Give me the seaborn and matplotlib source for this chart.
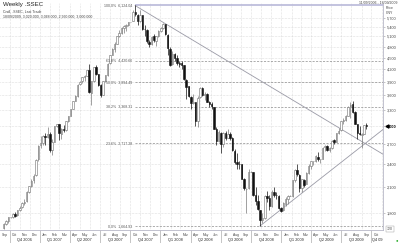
import matplotlib
matplotlib.use("Agg")
import matplotlib.pyplot as plt
import matplotlib.transforms as mtransforms
import matplotlib.dates as mdates
from matplotlib.ticker import NullLocator
import numpy as np
import pandas as pd
import seaborn as sns

# ---------------- data ----------------
first_week = "2006-09-11"
opens = [1650, 1684, 1716, 1752, 1755, 1785, 1775, 1830, 1860, 1910, 1930, 2040, 2110, 2180, 2250, 2470,
         2690, 2720, 2830, 2820, 2870, 2610, 2740, 2998, 3040, 2870, 2960, 2930, 3095, 3190, 3330, 3480,
         3580, 3850, 3910, 4020, 4040, 4180, 3660, 3930, 4260, 4080, 3820, 3620, 3920, 4060, 4350, 4570,
         4750, 4880, 5110, 5220, 5360, 5430, 5460, 5552, 5600, 5910, 5800, 5590, 5780, 5330, 5300, 4950,
         4880, 5100, 4980, 5110, 5270,
         5370, 5480, 5150, 4750, 4330, 4600, 4500, 4360, 4350, 4300, 3950, 3800, 3570, 3450, 3460, 3090,
         3560, 3760, 3610, 3630, 3470, 3430, 3370, 2950, 2750, 2890, 2710, 2880, 2800, 2870, 2800, 2600,
         2430, 2400, 2400, 2200, 2070, 2080, 2293, 2290, 2000, 1930, 1830, 1730, 1750, 1990, 1970, 1870,
         2040, 2000, 1990, 1850,
         1830, 1900, 1950, 1991, 1990, 2180, 2320, 2250, 2080, 2190, 2130, 2280, 2370, 2440, 2440, 2510,
         2470, 2480, 2650, 2670, 2610, 2640, 2760, 2740, 2880, 2930, 3090, 3110, 3190, 3380, 3420, 3260,
         3040, 2890, 2850, 2870, 3020]
highs = [1700, 1730, 1760, 1760, 1800, 1810, 1835, 1870, 1920, 1950, 2050, 2110, 2200, 2260, 2470, 2690,
         2840, 2850, 2890, 2990, 2900, 2780, 3000, 3050, 3049, 2970, 3030, 3100, 3190, 3330, 3490, 3600,
         3850, 3920, 4020, 4070, 4190, 4335, 3920, 4270, 4312, 4090, 3850, 3920, 4070, 4350, 4570, 4760,
         4940, 5110, 5290, 5400, 5470, 5490, 5560, 5560, 5950, 6124, 5830, 5954, 5800, 5450, 5330, 5010,
         5100, 5180, 5120, 5290, 5400,
         5522, 5500, 5170, 4790, 4680, 4630, 4560, 4420, 4400, 4320, 3960, 3800, 3590, 3630, 3470, 3590,
         3790, 3786, 3670, 3650, 3480, 3470, 3370, 2990, 2930, 2900, 2900, 2920, 2950, 2900, 2810, 2620,
         2560, 2440, 2400, 2210, 2080, 2330, 2300, 2290, 2100, 2000, 1830, 1800, 2000, 2050, 2000, 2060,
         2100, 2040, 2000, 1860,
         1920, 1980, 2000, 1995, 2190, 2330, 2402, 2260, 2200, 2200, 2290, 2400, 2450, 2450, 2530, 2580,
         2480, 2650, 2690, 2690, 2650, 2770, 2790, 2880, 2970, 3090, 3150, 3200, 3380, 3454, 3478, 3290,
         3050, 3000, 2890, 3030, 3068]
lows = [1640, 1675, 1700, 1745, 1750, 1760, 1770, 1820, 1850, 1890, 1920, 2020, 2100, 2150, 2240, 2450,
        2640, 2680, 2680, 2800, 2580, 2540, 2730, 2990, 2760, 2780, 2900, 2920, 3080, 3180, 3320, 3480,
        3570, 3840, 3880, 3930, 4030, 3660, 3400, 3900, 4060, 3800, 3563, 3600, 3900, 4050, 4340, 4560,
        4650, 4880, 5090, 5180, 5200, 5280, 5420, 5545, 5590, 5750, 5460, 5560, 5300, 5110, 4900, 4780,
        4840, 4950, 4810, 5080, 5230,
        5320, 5150, 4559, 4280, 4310, 4400, 4300, 4250, 4200, 3950, 3520, 3560, 3330, 3420, 3000, 2990,
        3540, 3580, 3500, 3460, 3370, 3330, 2950, 2690, 2730, 2566, 2650, 2760, 2800, 2760, 2590, 2400,
        2330, 2330, 2200, 2060, 1802, 2070, 2285, 1990, 1890, 1830, 1665, 1700, 1740, 1920, 1830, 1860,
        1980, 1950, 1845, 1810,
        1820, 1880, 1900, 1988, 1980, 2160, 2240, 2037, 2040, 2100, 2130, 2270, 2330, 2390, 2430, 2450,
        2420, 2480, 2600, 2600, 2580, 2630, 2710, 2730, 2870, 2920, 3050, 3100, 3180, 3150, 3250, 3040,
        2780, 2850, 2639, 2860, 2960]
closes = [1684, 1716, 1752, 1752, 1785, 1771, 1830, 1855, 1910, 1925, 2040, 2105, 2175, 2240, 2460, 2675,
          2715, 2830, 2820, 2870, 2612, 2730, 2998, 3040, 2881, 2955, 2930, 3095, 3184, 3324, 3478, 3580,
          3841, 3900, 4020, 4030, 4182, 3670, 3913, 4269, 4091, 3821, 3615, 3914, 4058, 4345, 4560, 4749,
          4870, 5107, 5219, 5355, 5421, 5454, 5552, 5552, 5903, 5818, 5589, 5779, 5330, 5316, 4958, 4871,
          5092, 4992, 5101, 5262, 5362,
          5485, 5180, 4762, 4320, 4600, 4497, 4370, 4348, 4300, 3962, 3796, 3580, 3446, 3472, 3094, 3557,
          3761, 3613, 3626, 3473, 3433, 3377, 2957, 2748, 2900, 2703, 2884, 2804, 2874, 2803, 2605, 2433,
          2405, 2397, 2202, 2079, 2075, 2293, 2293, 2000, 1930, 1839, 1729, 1748, 1987, 1971, 1871, 2035,
          2002, 1995, 1850, 1821,
          1904, 1954, 1991, 1991, 2182, 2320, 2261, 2082, 2193, 2128, 2281, 2374, 2444, 2445, 2513, 2475,
          2477, 2646, 2672, 2610, 2633, 2753, 2743, 2880, 2922, 3088, 3114, 3189, 3372, 3412, 3260, 3047,
          2890, 2860, 2860, 3026, 3000]

tick_values = [1800, 2100, 2400, 2700, 3000, 3300, 3600, 3900, 4200, 4500, 4800, 5100, 5400, 5700]
tick_labels = ["1,800", "2,100", "2,400", "2,700", "3,000", "3,300", "3,600", "3,900", "4,200",
               "4,500", "4,800", "5,100", "5,400", "5,700"]

fib_names = ["0.0%", "23.6%", "38.2%", "50.0%", "61.8%", "100.0%"]
fib_values = [1664.93, 2717.28, 3368.31, 3894.49, 4420.66, 6124.04]
fib_start = "2007-10-16"

down_trend_dates = ["2007-10-16", "2009-11-05"]
down_trend_values = [6124.04, 2545.0]
up_trend_dates = ["2008-10-28", "2009-11-05"]
up_trend_values = [1664.93, 2945.0]

x_start, x_end = "2006-09-02", "2009-11-05"
y_low, y_high = 1627.0, 6215.0

# ---------------- figure ----------------
sns.set_style("white")
plt.rcParams["font.family"] = ["Liberation Sans", "DejaVu Sans"]

W, H = 400, 243
fig = plt.figure(figsize=(W / 100, H / 100), dpi=100)
ax_top_px, ax_bot_px, ax_right_px = 3, 230, 383
ax = fig.add_axes([0.0, 1 - ax_bot_px / H, ax_right_px / W, (ax_bot_px - ax_top_px) / H])

dates = pd.date_range(first_week, periods=len(closes), freq="W-MON") + pd.Timedelta(days=2)
o = np.array(opens, float); h = np.array(highs, float)
l = np.array(lows, float); c = np.array(closes, float)
up = c >= o

ax.set_yscale("log")
xs0, xs1 = pd.Timestamp(x_start), pd.Timestamp(x_end)
ax.set_xlim(xs0, xs1)
ax.set_ylim(y_low, y_high)

# candles
wick_cols = np.where(up, "#7a7a7a", "#111111")
ax.vlines(dates, l, h, colors=wick_cols, lw=0.5, zorder=4)
body_bottom = np.minimum(o, c)
body_h = np.maximum(np.abs(c - o), 1.0)
ax.bar(dates, body_h, bottom=body_bottom, width=4.5,
       color=np.where(up, "white", "#111111"), edgecolor=np.where(up, "#6e6e6e", "#111111"),
       linewidth=0.4, zorder=5)

# fibonacci levels
fs = pd.Timestamp(fib_start)
lab_tr = mtransforms.offset_copy(ax.transData, fig=fig, x=-3, y=0, units="dots")
for name, v in zip(fib_names, fib_values):
    if name == "100.0%":
        ax.hlines(v, fs, xs1, colors="#b3b3d6", lw=1.1, zorder=2)
    else:
        ax.hlines(v, fs, xs1, colors="#8c8c8c", lw=0.5, linestyles=(0, (3, 2)), zorder=2)
    ax.text(fs, v, f"{name}  {v:,.2f}", transform=lab_tr, ha="right", va="center",
            fontsize=2.6, color="#555555", zorder=6)

# trend lines
sns.lineplot(x=pd.to_datetime(down_trend_dates), y=down_trend_values, ax=ax,
             color="#9a9aa6", lw=0.6, zorder=3)
sns.lineplot(x=pd.to_datetime(up_trend_dates), y=up_trend_values, ax=ax,
             color="#9a9aa6", lw=0.6, zorder=3)
ax.set_xlim(xs0, xs1)
ax.set_ylim(y_low, y_high)
ax.set_xlabel(""); ax.set_ylabel("")

# y axis on right
ax.yaxis.tick_right()
ax.yaxis.set_minor_locator(NullLocator())
ax.set_yticks(tick_values)
ax.set_yticklabels(tick_labels)
ax.tick_params(axis="y", labelsize=2.8, labelcolor="#444444", length=1.5, width=0.4,
               color="#999999", pad=1.5)
for t in ax.get_yticklabels():
    if t.get_text() == "3,000":
        t.set_fontweight("bold"); t.set_color("black")

# x axis: month grid + labels
months = pd.date_range("2006-09-01", "2009-11-01", freq="MS")
month_ticks = [m for m in months if xs0 <= m <= xs1]
ax.set_xticks(mdates.date2num(month_ticks))
ax.set_xticklabels([])
ax.xaxis.set_minor_locator(NullLocator())
ax.tick_params(axis="x", length=2.2, width=0.4, color="#999999", direction="out")

ax.grid(True, which="major", ls=(0, (1, 1.6)), lw=0.4, color="#c4c4c4")
ax.set_axisbelow(True)

xtr = ax.get_xaxis_transform()
axh = ax_bot_px - ax_top_px
for m in months:
    a = max(m, xs0); b = min(m + pd.DateOffset(months=1), xs1)
    if (b - a).days < 15:
        continue
    ax.text(a + (b - a) / 2, -(4.5 / axh), m.strftime("%b"), transform=xtr, ha="center",
            va="center", fontsize=2.4, color="#444444")

quarters = pd.date_range("2006-07-01", "2009-10-01", freq="QS")
for q in quarters:
    a = max(q, xs0); b = min(q + pd.DateOffset(months=3), xs1)
    if xs0 < q < xs1:
        ax.vlines(q, -(13 / axh), 0, transform=xtr, colors="#9a9a9a", lw=0.4, clip_on=False)
    days = (b - a).days
    if days < 32:
        continue
    lab = f"Q{q.quarter} {q.year}" if days > 60 else f"Q{q.quarter} {q.year % 100:02d}"
    ax.text(a + (b - a) / 2, -(10 / axh), lab, transform=xtr, ha="center", va="center",
            fontsize=2.8, color="#222222")

for side in ["top", "left"]:
    ax.spines[side].set_visible(False)
for side in ["right", "bottom"]:
    ax.spines[side].set_color("#b8b8c8"); ax.spines[side].set_linewidth(0.6)

# last price marker
mk_tr = mtransforms.blended_transform_factory(ax.transAxes, ax.transData)
ax.plot([1 + 3.5 / ax_right_px], [closes[-1]], transform=mk_tr, marker="<", ms=2.2,
        color="black", clip_on=False, zorder=7)

# header texts
fig.text(3 / W, 1 - 4.5 / H, "Weekly .SSEC", fontsize=4.4, va="center", color="#222222")
fig.text(3 / W, 1 - 12 / H, "Cndl, .SSEC, Last Trade", fontsize=2.5, va="center", color="#444444")
fig.text(3 / W, 1 - 16.5 / H,
         f"18/09/2009, {opens[-1]:,.3f}, {highs[-1]:,.3f}, {lows[-1]:,.3f}, {closes[-1]:,.3f}",
         fontsize=2.5, va="center", color="#444444")
fig.text(1 - 3 / W, 1 - 2.5 / H, "11/09/2006 - 18/09/2009", fontsize=2.5, va="center",
         ha="right", color="#444444")
fig.text(386 / W, 1 - 8 / H, "Price", fontsize=2.5, va="center", color="#444444")
fig.text(386 / W, 1 - 12.5 / H, "CNY", fontsize=2.5, va="center", color="#444444")
fig.text(387 / W, 1 - 229 / H, "720", fontsize=2.5, va="center", color="#444444",
         bbox=dict(boxstyle="square,pad=0.15", fc="white", ec="#999999", lw=0.3))
fig.text(397 / W, 1 - 240 / H, "\u25cf", fontsize=3, va="center", ha="center", color="#22aa22")

fig.savefig("out.png", dpi=100)
